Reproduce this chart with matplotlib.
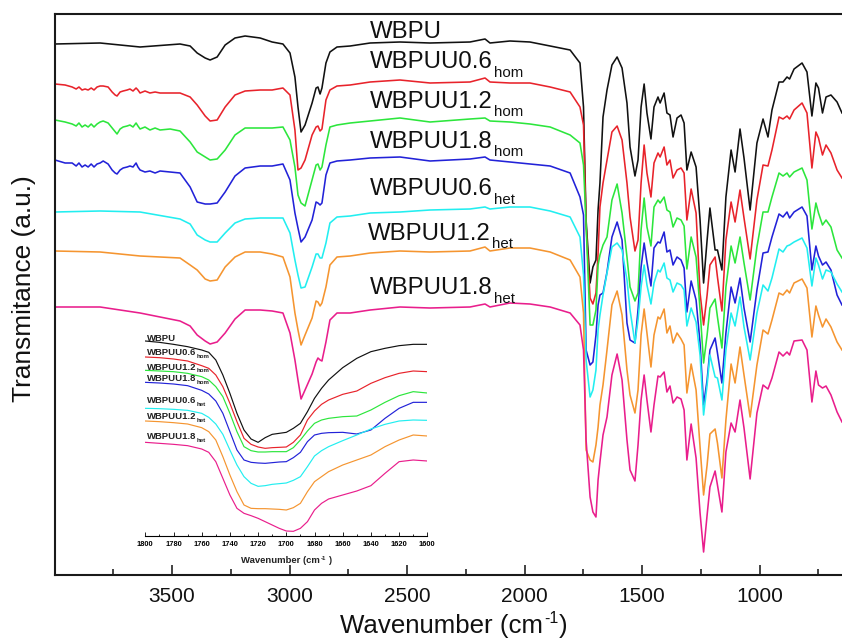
import matplotlib
matplotlib.use("Agg")
import matplotlib.pyplot as plt
from matplotlib.ticker import FixedLocator, MultipleLocator

plt.rcParams['font.family'] = ['Liberation Sans', 'DejaVu Sans']

# ---- wavenumber grids (cm-1) ----
wn_smooth = [3998,3806,3636,3466,3423,3393,3359,3338,3308,3274,3232,3189,3125,3074,3028,2998,2977,2964,2951,2934,
             2904,2887,2879,2870,2862,2845,2828,2798,2742,2657,2530,2402,2232,2168,2147,2062,1977,1891]
wn_noisy = [3998,3955,3925,3908,3896,3883,3870,3857,3844,3832,3819,3806,3793,3772,3755,3742,3734,3721,3708,3691,
            3679,3666,3653,3645,3636,3615,3594,3572,3551,3508,3466,3423,3393,3359,3338,3308,3274,3232,3189,3125,
            3074,3028,2998,2977,2964,2951,2934,2904,2887,2879,2870,2862,2845,2828,2798,2742,2657,2530,2402,2232,
            2168,2147,2062,1977,1891]
wn_finger = [1806,1764,1749,1738,1721,1709,1696,1687,1679,1666,1649,1628,1606,1585,1564,1551,1530,1517,1504,1491,
             1479,1462,1449,1432,1423,1406,1394,1381,1368,1351,1334,1321,1309,1291,1270,1253,1238,1223,1211,1189,
             1179,1160,1143,1121,1104,1083,1066,1040,1011,985,964,947,917,900,883,872,853,819,798,777,
             760,749,732,717,696,670,649]

# ---- main traces: stacked depth below the top of the frame (a.u.) ----
wbpu_left = [44,43,47,44,46,53,58,60,57,45,38,36,38,42,44,53,77,107,132,125,103,88,87,94,88,63,52,47,46,43,42,43,42,39,43,41,42,46]
wbpu_fing = [50,63,107,220,283,267,260,210,183,117,90,65,57,68,103,147,176,160,107,84,
             113,139,107,97,103,93,113,115,137,118,115,123,170,152,167,220,283,240,208,250,
             250,270,197,150,172,129,158,210,143,119,137,110,82,82,77,79,69,63,72,116,
             83,88,113,97,95,102,113]
hom06_left = [84,85,87,89,87,90,89,90,88,90,87,86,86,87,92,95,96,92,91,90,
              89,91,88,90,93,91,93,92,93,93,93,97,105,116,121,120,107,95,91,90,
              90,88,95,130,170,168,160,135,127,126,131,129,100,90,86,85,82,80,83,82,78,82,83,83,87]
hom06_fing = [92,107,125,225,298,304,293,253,207,183,160,132,126,140,183,217,251,240,183,145,
              173,197,163,153,157,147,165,160,178,170,168,173,220,189,213,293,325,295,265,257,
              277,311,240,202,222,190,218,259,200,165,166,150,117,119,116,119,110,103,113,168,
              132,138,155,145,153,170,178]
hom12_left = [120,122,124,126,123,127,125,127,124,127,124,122,121,123,128,132,134,129,127,126,
              125,127,123,126,129,127,130,128,130,129,131,142,152,157,160,159,150,135,128,128,
              128,127,140,167,195,203,206,180,165,164,170,167,145,127,125,123,121,118,122,119,118,121,122,124,127]
hom12_fing = [135,143,165,225,325,325,310,265,255,245,237,200,184,213,257,287,301,293,230,198,
              227,246,207,200,203,197,210,212,227,218,220,226,269,237,257,310,363,335,308,299,
              317,348,287,246,263,237,263,300,247,212,212,197,173,176,173,177,172,168,180,229,
              203,213,225,220,227,250,258]
hom18_left = [160,163,163,166,163,167,165,167,164,167,164,163,161,164,170,173,174,170,168,167,
              166,167,163,167,170,172,171,173,171,172,173,187,202,204,204,203,192,176,168,166,
              166,164,180,213,228,242,237,220,202,203,205,203,175,163,161,160,158,157,161,159,157,160,162,164,166]
hom18_fing = [173,197,215,350,365,362,335,305,295,293,272,237,222,240,323,340,343,310,267,243,
              262,286,248,242,243,232,252,250,265,257,260,268,312,281,300,343,405,380,350,338,
              353,383,333,287,303,278,308,342,290,253,252,237,214,217,212,218,212,207,216,270,
              246,256,265,262,270,295,305]
het06_left = [212,211,212,219,224,235,240,242,242,233,223,219,218,218,218,233,260,275,288,287,267,254,254,258,258,243,223,217,216,213,212,210,209,207,209,207,207,211]
het06_fing = [217,237,275,360,397,390,370,330,315,295,273,247,243,250,280,310,343,320,287,265,
              285,304,283,270,272,263,278,280,292,283,285,290,326,308,322,355,415,385,355,377,
              378,400,350,313,326,297,327,360,313,285,291,278,249,252,246,245,242,238,248,286,
              258,265,279,270,272,284,292]
het12_left = [251,252,256,258,265,270,279,281,280,267,257,252,252,254,257,277,313,330,345,335,318,301,302,306,303,287,265,257,256,253,251,252,251,247,251,248,248,252]
het12_fing = [260,277,313,450,460,462,445,427,405,385,350,305,291,315,370,395,413,390,335,309,
              333,367,335,317,319,309,333,326,343,333,339,345,393,364,390,447,495,465,434,429,
              443,478,420,364,383,347,375,417,365,330,334,320,293,295,290,293,283,279,288,337,
              306,315,327,319,327,342,350]
het18_left = [307,307,313,321,326,335,341,344,342,333,319,310,310,311,313,333,360,380,399,390,374,362,358,360,361,342,320,313,313,310,307,308,307,304,307,303,304,307]
het18_fing = [313,325,350,440,497,512,517,480,462,435,417,375,354,380,440,470,481,445,400,375,
              400,432,405,376,377,372,392,386,403,397,399,410,460,424,458,513,552,515,487,471,
              485,512,452,423,432,400,428,479,413,385,389,378,352,356,352,355,341,340,350,402,
              371,385,388,386,395,412,422]

# ---- inset traces ----
wn_inset = [1800,1790,1780,1770,1760,1755,1750,1745,1740,1735,1730,1725,1720,1715,1710,1705,1700,1695,1690,1685,
            1680,1675,1670,1660,1650,1640,1630,1620,1610,1600]
in_wbpu = [48,52,58,65,75,82,105,150,205,265,315,342,352,338,328,325,322,310,295,260,220,190,165,128,100,80,70,62,58,58]
in_hom06 = [96,98,102,108,122,130,150,185,235,290,340,358,366,370,368,367,366,352,330,285,258,238,225,208,198,175,158,145,138,140]
in_hom12 = [136,138,140,145,155,165,185,215,265,320,365,377,381,381,380,380,380,368,345,318,295,285,280,275,273,255,232,212,200,204]
in_hom18 = [172,174,177,182,196,207,228,265,320,375,405,412,414,415,413,411,410,398,382,350,330,325,323,322,327,315,280,250,232,232]
in_het06 = [250,251,253,256,265,277,297,328,375,420,455,475,484,482,478,476,474,466,455,425,393,377,365,347,330,312,298,288,285,286]
in_het12 = [288,290,293,297,308,320,345,395,450,500,540,550,551,551,552,553,555,548,535,500,470,455,440,420,405,390,365,345,330,333]
in_het18 = [352,355,358,362,372,382,410,460,510,550,565,572,580,590,600,610,618,619,610,590,555,535,522,510,498,482,445,410,405,408]

colors = ['#111111', '#e8232b', '#2ce63c', '#2222d8', '#22eef0', '#f59530', '#e91e8c']
names = ['WBPU', 'WBPUU0.6', 'WBPUU1.2', 'WBPUU1.8', 'WBPUU0.6', 'WBPUU1.2', 'WBPUU1.8']
subs = ['', 'hom', 'hom', 'hom', 'het', 'het', 'het']
main_labels_x = [370, 370, 370, 370, 370, 368, 370]
main_labels_y = [38.5, 68.5, 108, 148, 195, 239.5, 294]
inset_labels_y = [341, 355, 370, 381, 403, 419, 439]

W, H = 842, 639
fig = plt.figure(figsize=(W/100, H/100), dpi=100, facecolor='white')
renderer = fig.canvas.get_renderer()


def put(x, y, s, size, weight='normal', color='#111111'):
    """Place text with left end at pixel x and baseline at pixel y; return its right end in pixels."""
    t = fig.text(x/W, 1-y/H, s, ha='left', va='baseline', fontsize=size, fontweight=weight, color=color)
    return t.get_window_extent(renderer).x1


def width(s, size, weight='normal'):
    t = fig.text(0, 0, s, fontsize=size, fontweight=weight)
    w = t.get_window_extent(renderer).width
    t.remove()
    return w


def unit_label(cx, y, size, sup_size, rise, weight, color):
    a, b, c = 'Wavenumber (cm', '-1', ')'
    total = width(a, size, weight) + width(b, sup_size, weight) + width(c, size, weight) + 2
    x = put(cx - total/2, y, a, size, weight, color)
    x = put(x + 1, y - rise, b, sup_size, weight, color)
    put(x + 1, y, c, size, weight, color)


ax = fig.add_axes([55/W, (H-575)/H, 787/W, 561/H])
traces = [
    (wn_smooth, wbpu_left, wbpu_fing),
    (wn_noisy, hom06_left, hom06_fing),
    (wn_noisy, hom12_left, hom12_fing),
    (wn_noisy, hom18_left, hom18_fing),
    (wn_smooth, het06_left, het06_fing),
    (wn_smooth, het12_left, het12_fing),
    (wn_smooth, het18_left, het18_fing),
]
for (wn, left, fing), c in zip(traces, colors):
    ax.plot(wn + wn_finger, left + fing, color=c, lw=1.15, solid_joinstyle='round')

ax.set_xlim(3998, 649)
ax.set_ylim(575, 14)
ax.xaxis.set_major_locator(FixedLocator([3500, 3000, 2500, 2000, 1500, 1000]))
ax.xaxis.set_minor_locator(FixedLocator([3750, 3250, 2750, 2250, 1750, 1250, 750]))
ax.tick_params(axis='x', which='major', direction='in', length=7.2, width=1.1, labelsize=15, pad=8.5, color='#111111', labelcolor='#111111')
ax.tick_params(axis='x', which='minor', direction='in', length=4, width=1.1, color='#111111')
ax.set_yticks([])
ax.spines['right'].set_visible(False)
for s in ['left', 'top', 'bottom']:
    ax.spines[s].set_linewidth(1.5)
    ax.spines[s].set_color('#1a1a1a')

unit_label(454, 633, 18.6, 11.5, 10, 'normal', '#111111')
fig.text(24/W, 1-289/H, 'Transmitance (a.u.)', rotation=90, ha='center', va='center', fontsize=18.9, color='#111111')

for n, s, x, y in zip(names, subs, main_labels_x, main_labels_y):
    end = put(x, y, n, 17.3)
    if s:
        put(end + 1, y + 8.5, s, 10.8)

# inset
ins = fig.add_axes([145.3/W, (H-536)/H, 282/W, 211/H], facecolor='none')
for vals, c in zip([in_wbpu, in_hom06, in_hom12, in_hom18, in_het06, in_het12, in_het18], colors):
    ins.plot(wn_inset, vals, color=c, lw=0.85, solid_joinstyle='round')
ins.set_xlim(1800, 1600)
ins.set_ylim(633, 0)
ins.xaxis.set_major_locator(MultipleLocator(20))
ins.xaxis.set_minor_locator(MultipleLocator(10))
ins.tick_params(axis='x', which='major', direction='in', length=2.6, width=0.6, labelsize=5.4, pad=3.5)
ins.tick_params(axis='x', which='minor', direction='in', length=1.4, width=0.6)
for lab in ins.get_xticklabels():
    lab.set_fontweight('bold')
ins.set_yticks([])
for s in ['left', 'right', 'top']:
    ins.spines[s].set_visible(False)
ins.spines['bottom'].set_linewidth(0.8)

unit_label(286, 563, 6.8, 4.4, 3, 'bold', '#222222')
for n, s, y in zip(names, subs, inset_labels_y):
    end = put(146.5, y, n, 6.8, 'bold', '#222222')
    if s:
        put(end + 0.5, y + 2.5, s, 4.4, 'bold', '#222222')

fig.savefig('out.png', dpi=100)
